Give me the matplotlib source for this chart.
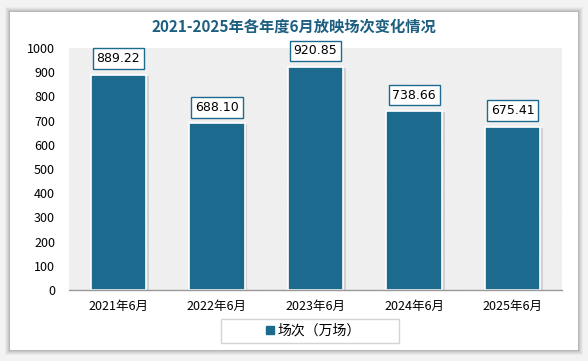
import matplotlib
matplotlib.use('Agg')
import matplotlib.pyplot as plt
from matplotlib.patches import Rectangle
from matplotlib.lines import Line2D

plt.rcParams['font.family'] = ['Noto Sans CJK SC', 'DejaVu Sans']
plt.rcParams['hatch.linewidth'] = 0.35

categories = ['2021年6月', '2022年6月', '2023年6月', '2024年6月', '2025年6月']
values = [889.22, 688.10, 920.85, 738.66, 675.41]
value_labels = ['889.22', '688.10', '920.85', '738.66', '675.41']
series_name = '场次（万场）'
title = '2021-2025年各年度6月放映场次变化情况'

bar_color = '#1c6b8e'
title_color = '#1d5f80'

fig = plt.figure(figsize=(5.88, 3.61), dpi=100)
fig.patch.set_facecolor('#f3f3f3')

# card with soft shadow
W, H = 588, 361
for i, a in enumerate([0.03, 0.04, 0.05, 0.06, 0.08]):
    d = 5 - i
    fig.patches.append(Rectangle(((10 - d) / W, (11 - d) / H), (568 + 2 * d) / W, (338 + 2 * d) / H,
                                 transform=fig.transFigure, facecolor='black', alpha=a,
                                 edgecolor='none', zorder=0))
fig.patches.append(Rectangle((10 / W, 11 / H), 568 / W, 338 / H, transform=fig.transFigure,
                             facecolor='white', edgecolor='none', zorder=1))

ax = fig.add_axes([69 / W, 71 / H, 493 / W, 242 / H])
ax.set_zorder(3)
ax.set_facecolor('none')
ax.add_patch(Rectangle((0, 0), 1, 1, transform=ax.transAxes, facecolor='white',
                       edgecolor='#dedede', hatch='\\' * 22, linewidth=0, zorder=0))

x = range(len(categories))
# bar shadows
ax.bar([i + 0.03 for i in x], [v - 4 for v in values], width=0.56, color='#b5b5b5', alpha=0.5,
       zorder=1, linewidth=0)
ax.bar(x, values, width=0.56, color=bar_color, edgecolor='white', linewidth=1.2, zorder=2,
       label=series_name)

for i, (v, t) in enumerate(zip(values, value_labels)):
    ax.annotate(t, (i, v), xytext=(0, 7), textcoords='offset points', ha='center', va='bottom',
                fontsize=9, family=['DejaVu Sans'], zorder=5,
                bbox=dict(boxstyle='square,pad=0.3', facecolor='white', edgecolor=bar_color,
                          linewidth=1))

ax.set_xlim(-0.5, 4.5)
ax.set_ylim(0, 1000)
ax.set_yticks(range(0, 1001, 100))
ax.set_xticks(list(x))
ax.set_xticklabels(categories, fontsize=9)
ax.tick_params(axis='y', labelsize=9, length=0, pad=10)
ax.tick_params(axis='x', length=0, pad=7)
for s in ['top', 'right', 'left']:
    ax.spines[s].set_visible(False)
ax.spines['bottom'].set_color('#999999')
ax.spines['bottom'].set_linewidth(1)

fig.text(0.5, 334 / H, title, ha='center', va='center', fontsize=11, fontweight='bold',
         color=title_color, zorder=5)

# legend frame and entry
fig.patches.append(Rectangle((221 / W, 18 / H), 178 / W, 24 / H, transform=fig.transFigure,
                             facecolor='white', edgecolor='#d4d4d4', linewidth=1, zorder=4))
handle = Line2D([], [], marker='s', linestyle='none', markersize=6, color=bar_color)
leg = fig.legend([handle], [series_name], loc='center', bbox_to_anchor=(312 / W, 30 / H),
                 fontsize=10, frameon=False, handletextpad=0.1, handlelength=1.0)
leg.set_zorder(5)

plt.savefig('out.png', dpi=100, facecolor=fig.get_facecolor())
